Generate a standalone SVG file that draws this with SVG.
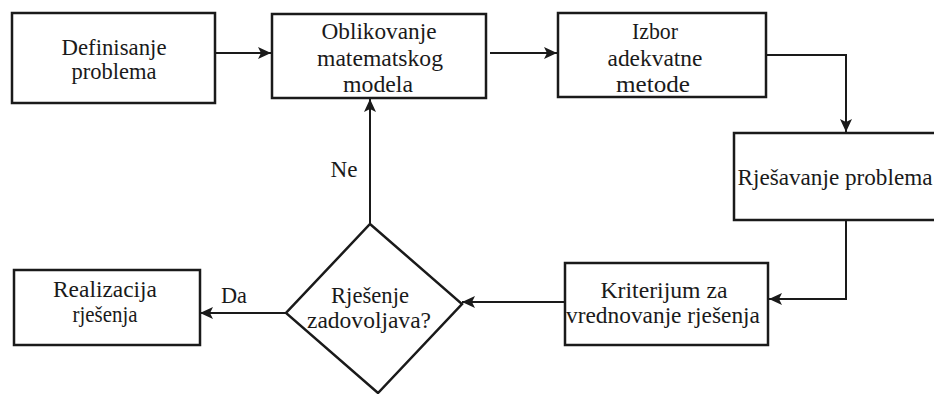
<svg xmlns="http://www.w3.org/2000/svg" width="934" height="394" viewBox="0 0 934 394">
<style>
.box{fill:#fff;stroke:#1a1a1a;stroke-width:2.5}
.ln{fill:none;stroke:#1a1a1a;stroke-width:2;marker-end:url(#ah)}
text{font-family:"Liberation Serif","Tinos","Times New Roman","DejaVu Serif","Noto Serif",serif;font-size:23px;fill:#1a1a1a;text-anchor:middle}
</style>
<defs>
<marker id="ah" markerUnits="userSpaceOnUse" markerWidth="14" markerHeight="12" refX="13" refY="6" orient="auto">
<path d="M0,0 L13,6 L0,12 L3,6 Z" fill="#1a1a1a"/>
</marker>
</defs>
<rect width="934" height="394" fill="#fff"/>
<g id="connectors">
<path class="ln" d="M215,53 H271"/>
<path class="ln" d="M490,53 H557"/>
<path class="ln" d="M766,55 H846 V132"/>
<path class="ln" d="M846,220 V299 H769"/>
<path class="ln" d="M565,302 H462"/>
<path class="ln" d="M286,313 H200"/>
<path class="ln" d="M370,224 V99"/>
<text x="344" y="177" textLength="27" lengthAdjust="spacingAndGlyphs">Ne</text>
<text x="234" y="303" textLength="26" lengthAdjust="spacingAndGlyphs">Da</text>
</g>
<g id="n1"><rect class="box" x="12" y="13" width="203" height="90"/>
<text x="114" y="55" textLength="105" lengthAdjust="spacingAndGlyphs">Definisanje</text><text x="114" y="79" textLength="85" lengthAdjust="spacingAndGlyphs">problema</text></g>
<g id="n2"><rect class="box" x="272" y="14" width="214" height="84"/>
<text x="379" y="39" textLength="115" lengthAdjust="spacingAndGlyphs">Oblikovanje</text><text x="380" y="66" textLength="126" lengthAdjust="spacingAndGlyphs">matematskog</text><text x="378" y="92" textLength="70" lengthAdjust="spacingAndGlyphs">modela</text></g>
<g id="n3"><rect class="box" x="558" y="13" width="208" height="84"/>
<text x="655" y="39" textLength="46" lengthAdjust="spacingAndGlyphs">Izbor</text><text x="655" y="66" textLength="95" lengthAdjust="spacingAndGlyphs">adekvatne</text><text x="653" y="92" textLength="74" lengthAdjust="spacingAndGlyphs">metode</text></g>
<g id="n4"><rect class="box" x="734" y="133" width="210" height="87"/>
<text x="835" y="185" textLength="195" lengthAdjust="spacingAndGlyphs">Rješavanje problema</text></g>
<g id="n5"><rect class="box" x="565" y="263" width="203" height="82"/>
<text x="664" y="298" textLength="127" lengthAdjust="spacingAndGlyphs">Kriterijum za</text><text x="663" y="323" textLength="194" lengthAdjust="spacingAndGlyphs">vrednovanje rješenja</text></g>
<g id="n6"><polygon class="box" points="370,224 462,304 378,393 286,313"/>
<text x="370" y="303" textLength="78" lengthAdjust="spacingAndGlyphs">Rješenje</text><text x="369" y="328" textLength="124" lengthAdjust="spacingAndGlyphs">zadovoljava?</text></g>
<g id="n7"><rect class="box" x="14" y="270" width="186" height="75"/>
<text x="105" y="297" textLength="104" lengthAdjust="spacingAndGlyphs">Realizacija</text><text x="105" y="322" textLength="65" lengthAdjust="spacingAndGlyphs">rješenja</text></g>
</svg>
